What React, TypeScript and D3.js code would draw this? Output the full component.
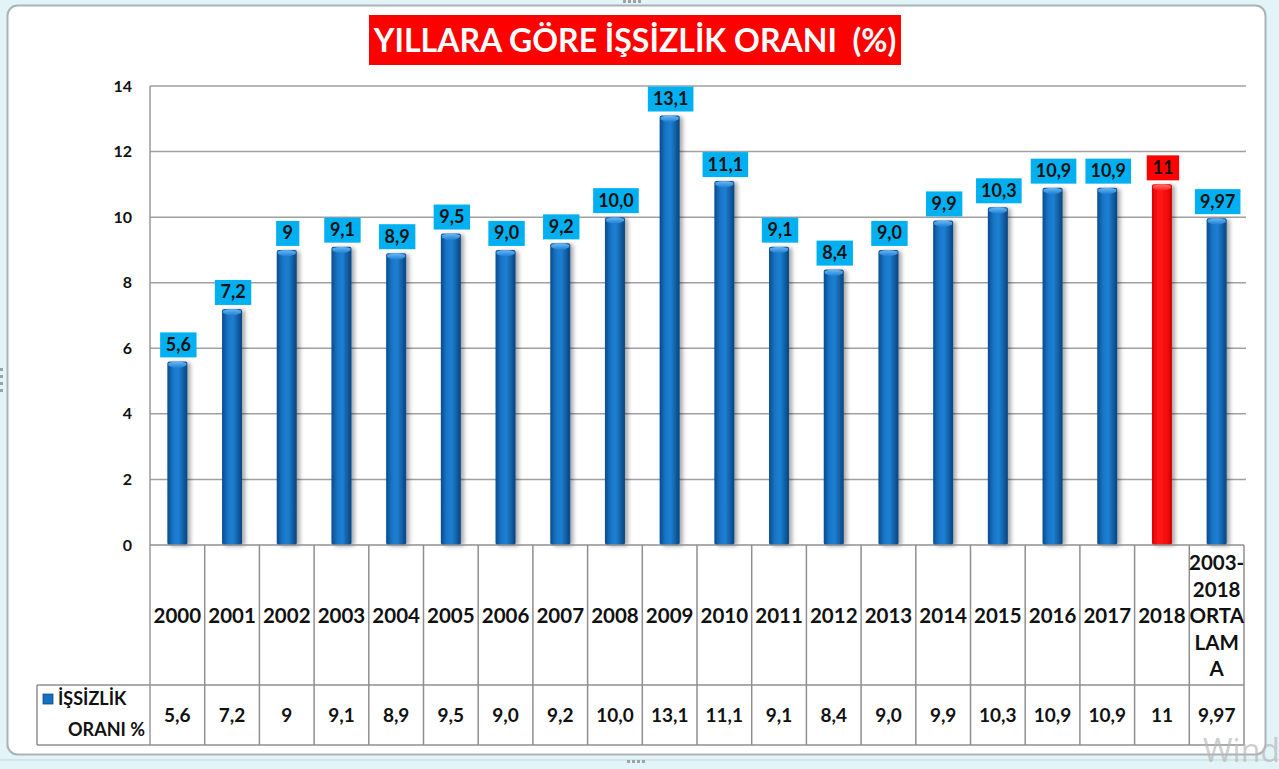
import React from "react";
import * as d3 from "d3";

const categories = ["2000","2001","2002","2003","2004","2005","2006","2007","2008","2009","2010","2011","2012","2013","2014","2015","2016","2017","2018","2003-2018 ORTALAMA"];
const categoryLines = [["2000"],["2001"],["2002"],["2003"],["2004"],["2005"],["2006"],["2007"],["2008"],["2009"],["2010"],["2011"],["2012"],["2013"],["2014"],["2015"],["2016"],["2017"],["2018"],["2003-","2018","ORTA","LAM","A"]];
const values = [5.6,7.2,9,9.1,8.9,9.5,9.0,9.2,10.0,13.1,11.1,9.1,8.4,9.0,9.9,10.3,10.9,10.9,11,9.97];
const valueLabels = ["5,6","7,2","9","9,1","8,9","9,5","9,0","9,2","10,0","13,1","11,1","9,1","8,4","9,0","9,9","10,3","10,9","10,9","11","9,97"];
const highlighted = ["2018"];
const yTicks = [0,2,4,6,8,10,12,14];
const title = "YILLARA GÖRE İŞSİZLİK ORANI\u00a0\u00a0(%)";
const seriesName = ["İŞSİZLİK", "ORANI %"];

const W = 1279, H = 769;
const FONT = "Lato, 'Open Sans', sans-serif";

export default function App() {
  const x = d3.scaleBand<string>().domain(categories).range([150, 1244]).padding(0);
  const y = d3.scaleLinear().domain([0, 14]).range([545, 86]);
  const bw = 20;
  const tableTop = y(0);
  const rowTop = 685;
  const rowBottom = 745;

  const labelWidth = (s: string) => {
    let w = 0;
    for (const c of s) w += c === "," ? 4 : 9.2;
    return w + 14;
  };

  return (
    <svg width={W} height={H} style={{ position: "absolute", left: 0, top: 0 }} fontFamily={FONT}>
      <defs>
        <linearGradient id="gBlue" x1="0" x2="1" y1="0" y2="0">
          <stop offset="0" stopColor="#0b4a8e" />
          <stop offset="0.3" stopColor="#1877c8" />
          <stop offset="0.55" stopColor="#1d7fd2" />
          <stop offset="1" stopColor="#09437f" />
        </linearGradient>
        <linearGradient id="gRed" x1="0" x2="1" y1="0" y2="0">
          <stop offset="0" stopColor="#e00000" />
          <stop offset="0.35" stopColor="#ff1a1a" />
          <stop offset="0.6" stopColor="#ff1010" />
          <stop offset="1" stopColor="#d40000" />
        </linearGradient>
        <linearGradient id="capBlue" x1="0" x2="0" y1="0" y2="1">
          <stop offset="0" stopColor="#6ab8f5" />
          <stop offset="1" stopColor="#1d7fd2" />
        </linearGradient>
        <linearGradient id="capRed" x1="0" x2="0" y1="0" y2="1">
          <stop offset="0" stopColor="#ff7070" />
          <stop offset="1" stopColor="#ff1a1a" />
        </linearGradient>
        <filter id="shadow" x="-50%" y="-10%" width="200%" height="120%">
          <feDropShadow dx="3" dy="1" stdDeviation="2" floodColor="#000" floodOpacity="0.35" />
        </filter>
      </defs>

      {/* window chrome */}
      <rect x={0} y={0} width={W} height={H} fill="#e2f4f8" />
      <rect x={7.5} y={5.5} width={1258} height={749} rx={10} fill="#ffffff" stroke="#a9b3b6" strokeWidth={2} />
      <line x1={0} x2={W} y1={760} y2={760} stroke="#c5d3d6" strokeWidth={1} />
      {[0, 1, 2, 3].map((i) => (
        <rect key={"td" + i} x={623 + i * 5} y={0} width={3} height={3} fill="#9aa4a7" />
      ))}
      {[0, 1, 2, 3].map((i) => (
        <rect key={"bd" + i} x={627 + i * 5} y={760} width={3} height={3} fill="#9aa4a7" />
      ))}
      {[0, 1, 2, 3].map((i) => (
        <rect key={"ld" + i} x={0} y={368 + i * 7} width={3} height={3} fill="#9aa4a7" />
      ))}

      {/* title */}
      <rect x={369} y={15} width={532} height={50} fill="#ff0000" />
      <text x={635} y={51.5} textAnchor="middle" fill="#ffffff" fontWeight={700} fontSize={32}>{title}</text>

      {/* gridlines */}
      {yTicks.filter((t) => t > 0).map((t) => (
        <line key={"g" + t} x1={150} x2={1246} y1={y(t)} y2={y(t)} stroke="#a0a0a0" strokeWidth={1.5} />
      ))}
      <line x1={150} x2={150} y1={y(14)} y2={rowBottom} stroke="#9a9a9a" strokeWidth={1.5} />

      {/* y ticks */}
      {yTicks.map((t) => (
        <text key={"yt" + t} x={132} y={y(t) + 5.5} textAnchor="end" fontWeight={700} fontSize={16} fill="#111">{t}</text>
      ))}

      {/* bars */}
      {categories.map((c, i) => {
        const cx = (x(c) as number) + x.bandwidth() / 2;
        const top = y(values[i]);
        const red = highlighted.includes(c);
        return (
          <g key={"b" + c}>
            <g filter="url(#shadow)">
              <rect x={cx - bw / 2} y={top} width={bw} height={y(0) - top} rx={2} fill={red ? "url(#gRed)" : "url(#gBlue)"} />
            </g>
            <path
              d={`M${cx - bw / 2 + 1},${top + 1.5} Q${cx},${top - 1} ${cx + bw / 2 - 1},${top + 1.5} L${cx + bw / 2 - 1},${top + 4} Q${cx},${top + 9} ${cx - bw / 2 + 1},${top + 4} Z`}
              fill={red ? "url(#capRed)" : "url(#capBlue)"}
            />
          </g>
        );
      })}

      {/* value labels */}
      {categories.map((c, i) => {
        const cx = (x(c) as number) + x.bandwidth() / 2;
        const top = y(values[i]);
        const red = highlighted.includes(c);
        const w = labelWidth(valueLabels[i]);
        const bottom = top - 4;
        return (
          <g key={"l" + c}>
            <rect x={cx - w / 2 + 1} y={bottom - 25} width={w} height={25} fill={red ? "#ff0000" : "#00b0f0"} />
            <text x={cx + 1} y={bottom - 6.5} textAnchor="middle" fontWeight={700} fontSize={18} fill="#111">{valueLabels[i]}</text>
          </g>
        );
      })}

      {/* table */}
      <line x1={150} x2={1244} y1={tableTop} y2={tableTop} stroke="#8f8f8f" strokeWidth={1.5} />
      <line x1={37} x2={1244} y1={rowTop} y2={rowTop} stroke="#8f8f8f" strokeWidth={1.5} />
      <line x1={37} x2={1244} y1={rowBottom} y2={rowBottom} stroke="#8f8f8f" strokeWidth={1.5} />
      <line x1={37} x2={37} y1={rowTop} y2={rowBottom} stroke="#8f8f8f" strokeWidth={1.5} />
      {categories.map((c) => (
        <line key={"v" + c} x1={(x(c) as number) + x.bandwidth()} x2={(x(c) as number) + x.bandwidth()} y1={tableTop} y2={rowBottom} stroke="#8f8f8f" strokeWidth={1.5} />
      ))}
      {categories.map((c, i) => {
        const cx = (x(c) as number) + x.bandwidth() / 2;
        const lines = categoryLines[i];
        const lh = 26.5;
        const mid = (tableTop + rowTop) / 2 + 1;
        const start = mid - ((lines.length - 1) * lh) / 2;
        return (
          <text key={"c" + c} textAnchor="middle" fontWeight={700} fontSize={20.5} fill="#111">
            {lines.map((ln, j) => (
              <tspan key={j} x={cx} y={start + j * lh + 7}>{ln}</tspan>
            ))}
          </text>
        );
      })}
      {categories.map((c, i) => {
        const cx = (x(c) as number) + x.bandwidth() / 2;
        return (
          <text key={"dv" + c} x={cx} y={(rowTop + rowBottom) / 2 + 7} textAnchor="middle" fontWeight={700} fontSize={19} fill="#111">{valueLabels[i]}</text>
        );
      })}
      {/* legend cell */}
      <rect x={43} y={694} width={10} height={10} fill="#1570c0" stroke="#0c4c92" strokeWidth={0.8} />
      <text x={58} y={705} fontWeight={700} fontSize={18} fill="#111">{seriesName[0]}</text>
      <text x={145} y={736} textAnchor="end" fontWeight={700} fontSize={18} fill="#111">{seriesName[1]}</text>

      {/* watermark */}
      <text x={1203} y={762} fontSize={32} fill="#b8b8b8" fillOpacity={0.7} fontFamily="'Open Sans', sans-serif">Wind</text>
    </svg>
  );
}
